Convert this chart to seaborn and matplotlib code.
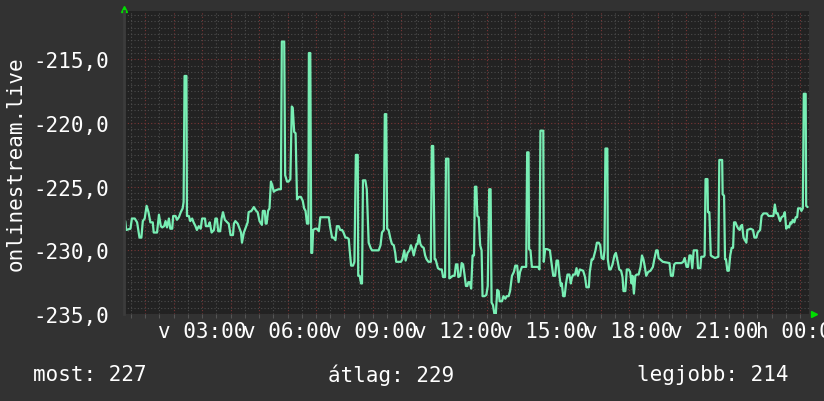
import matplotlib
matplotlib.use('Agg')
import matplotlib.pyplot as plt
from matplotlib.ticker import MultipleLocator, FuncFormatter
import pandas as pd
import seaborn as sns

# minutes since midnight (one day, 00:16 .. 00:20 next day)
time_min = [
    18, 20, 29, 32, 38, 43, 48, 52, 55, 59, 63, 67, 71, 76, 78, 85, 89, 93, 96, 100,
    103, 106, 110, 113, 117, 119, 124, 127, 131, 135, 139, 141, 143, 147, 148, 152, 155, 159, 162, 166,
    169, 173, 177, 180, 186, 188, 193, 196, 200, 205, 208, 211, 214, 218, 221, 224, 228, 233, 236, 240,
    245, 247, 250, 255, 257, 262, 264, 268, 271, 276, 278, 284, 289, 294, 297, 301,
    306, 308, 312, 314, 316, 319, 322, 325, 328, 331, 334, 341, 346, 348, 353, 355, 359, 362, 366, 369,
    371, 374, 377, 380, 384, 388, 392, 395, 398, 401, 404, 405, 408, 410, 412, 414, 418, 422, 426, 429,
    447, 450, 454, 457, 461, 464, 468, 471, 475, 478, 482, 485, 489, 491, 494, 498, 501, 504, 508, 509,
    512, 515, 517, 519, 524, 527, 531, 535, 538, 552, 556, 559, 563, 565, 568, 570, 573, 577, 580, 584,
    587, 589, 596,
    599, 602, 606, 609, 613, 617, 620, 623, 626, 629, 632, 634, 637, 640, 643, 647, 650, 653, 657, 662,
    664, 667, 670, 672, 677, 681, 685, 688, 692, 694, 699, 701, 705, 708, 712, 715, 718, 720, 724, 727,
    730, 733, 736, 739, 741, 744, 747, 750, 753, 755, 758, 760, 763, 766, 769, 771, 775, 779, 782, 785,
    788, 790, 793, 796, 799, 802, 805, 807, 812, 815, 819, 822, 826, 829, 833, 837, 840, 844, 847, 850,
    854, 863, 865, 868, 869, 872, 875, 888,
    891, 893, 899, 900, 903, 907, 913, 916, 920, 924, 927, 930, 933, 936, 938, 941, 944, 947, 950, 954,
    957, 959, 962, 966, 969, 972, 976, 983, 987, 990, 995, 997, 1001, 1004, 1009, 1012, 1016, 1019, 1022, 1026,
    1028, 1030, 1034, 1035, 1038, 1041, 1045, 1049, 1052, 1056, 1059, 1063, 1066, 1068, 1072, 1075, 1079, 1082, 1085, 1087,
    1090, 1093, 1096, 1100, 1104, 1107, 1110, 1113, 1116, 1120, 1125, 1130, 1133, 1137, 1140, 1142, 1151, 1165, 1168, 1172,
    1175,
    1178, 1190, 1194, 1197, 1201, 1204, 1207, 1210, 1213, 1216, 1223, 1225, 1230, 1232, 1237, 1239, 1241, 1245, 1246, 1249,
    1252, 1256, 1261, 1268, 1270, 1276, 1277, 1280, 1282, 1284, 1287, 1290, 1293, 1296, 1299, 1301, 1304, 1307, 1310, 1313,
    1315, 1318, 1321, 1324, 1327, 1329, 1336, 1341, 1344, 1348, 1351, 1356, 1359, 1363, 1370, 1374, 1381, 1384, 1387, 1390,
    1393, 1396, 1398, 1401, 1405, 1408, 1411, 1414, 1417, 1420, 1422, 1425, 1428, 1431, 1434, 1436, 1441, 1443, 1446, 1448,
    1452, 1453, 1456,
]

values = [
    -227.7, -228.4, -228.3, -227.5, -227.5, -227.8, -229.0, -229.0, -227.7, -227.5,
    -226.5, -227.0, -227.8, -227.8, -228.6, -228.6, -227.2, -228.1, -228.2, -228.1,
    -227.7, -228.2, -227.5, -228.3, -228.3, -227.3, -227.3, -227.6, -227.4, -227.0,
    -226.7, -226.2, -216.3, -216.3, -227.3, -227.3, -227.7, -227.5, -227.8, -228.1,
    -228.4, -228.1, -228.3, -227.5, -227.5, -228.1, -228.1, -227.8, -228.6, -228.4,
    -227.5, -227.5, -228.5, -228.5, -227.5, -227.0, -227.6, -227.8, -227.9, -228.8,
    -228.8, -227.9, -227.7, -227.9, -228.1, -228.6, -229.4, -228.6, -228.3, -227.8,
    -227.0, -226.9, -226.6, -226.9, -227.0, -227.7,
    -228.0, -226.9, -226.9, -227.9, -227.9, -226.9, -226.7, -224.6, -224.9, -225.4,
    -225.3, -225.2, -225.2, -213.6, -213.6, -224.1, -224.6, -224.6, -224.4, -218.7,
    -218.8, -220.7, -220.8, -226.0, -225.8, -225.8, -226.1, -226.7, -226.9, -227.9,
    -227.9, -214.5, -214.5, -230.2, -230.2, -228.4, -228.3, -228.3, -228.5, -227.4,
    -227.4, -228.2, -229.0, -229.0, -229.2, -228.1, -228.1, -228.4, -228.4, -228.6,
    -229.0, -229.0, -229.1, -230.0, -231.2, -231.2, -230.9, -222.5, -222.5, -232.0,
    -232.0, -232.6, -232.6, -224.5, -224.5, -225.2, -229.4, -229.8, -230.0, -230.0,
    -229.6, -228.6, -228.4, -219.3, -219.3, -228.3, -228.4, -229.1, -229.5, -229.6,
    -230.2, -230.9, -230.9,
    -230.9, -230.7, -230.0, -230.8, -230.2, -230.0, -229.6, -229.9, -230.4, -229.9,
    -229.5, -229.5, -228.8, -229.5, -229.7, -229.8, -230.4, -230.7, -230.9, -230.9,
    -221.8, -221.8, -230.7, -230.7, -231.4, -231.5, -231.5, -232.1, -232.1, -222.8,
    -222.8, -232.2, -232.1, -232.0, -232.0, -231.1, -231.1, -232.1, -232.0, -231.0,
    -231.1, -231.9, -232.8, -232.8, -232.5, -232.5, -233.0, -230.4, -230.4, -225.0,
    -225.0, -227.3, -227.4, -229.6, -230.0, -233.6, -233.6, -233.5, -232.8, -225.2,
    -225.2, -234.1, -234.3, -235.0, -235.0, -233.1, -233.2, -234.0, -234.0, -233.6,
    -233.8, -233.6, -233.6, -233.2, -232.0, -231.7, -231.2, -231.2, -232.5, -231.7,
    -231.3, -231.3, -222.3, -222.3, -229.9, -230.0, -231.3, -231.3,
    -231.5, -220.6, -220.6, -230.9, -229.9, -229.9, -230.0, -230.9, -232.0, -232.0,
    -230.8, -230.8, -232.0, -232.8, -232.6, -233.6, -233.6, -232.6, -231.9, -231.9,
    -232.6, -232.2, -231.9, -231.9, -231.4, -232.0, -231.5, -231.6, -232.1, -232.9,
    -232.9, -231.7, -230.7, -230.7, -230.0, -229.4, -229.4, -229.6, -230.6, -230.7,
    -230.0, -222.0, -222.0, -230.7, -231.5, -231.5, -231.1, -230.4, -230.2, -230.9,
    -231.5, -231.6, -232.1, -233.2, -233.2, -231.5, -231.5, -231.7, -232.6, -232.0,
    -233.4, -232.0, -231.9, -231.9, -231.3, -230.4, -230.7, -231.3, -232.0, -231.7,
    -231.6, -231.3, -230.7, -230.0, -230.0, -230.6, -230.9, -231.0, -232.0, -232.0,
    -231.1,
    -231.0, -231.0, -230.9, -230.6, -231.3, -231.3, -230.4, -230.4, -231.4, -230.0,
    -230.0, -231.4, -231.4, -230.5, -230.5, -230.4, -224.4, -224.4, -227.0, -227.0,
    -230.4, -230.5, -230.6, -230.5, -222.9, -222.9, -225.6, -225.7, -230.7, -230.7,
    -231.6, -231.6, -230.4, -229.8, -229.8, -227.8, -227.8, -228.1, -228.3, -228.4,
    -228.1, -228.0, -229.0, -229.2, -229.4, -228.4, -228.3, -228.4, -229.0, -229.0,
    -228.6, -228.4, -227.3, -227.1, -227.1, -227.3, -227.3, -227.3, -226.4, -227.1,
    -227.1, -227.5, -227.7, -227.4, -227.3, -227.0, -228.3, -228.1, -228.2, -227.8,
    -227.9, -227.6, -227.8, -227.4, -227.4, -226.7, -226.7, -226.9, -226.7, -217.7,
    -217.7, -226.5, -226.6,
]

tick_minutes = [180, 360, 540, 720, 900, 1080, 1260, 1440]
tick_labels = ['v 03:00', 'v 06:00', 'v 09:00', 'v 12:00',
               'v 15:00', 'v 18:00', 'v 21:00', 'h 00:00']
legend_items = ['most: 227', 'átlag: 229', 'legjobb: 214']

df = pd.DataFrame({'time': time_min, 'value': values})

sns.set_style('dark')
plt.rcParams['font.family'] = ['DejaVu Sans Mono', 'DejaVu Sans']

fig = plt.figure(figsize=(8.24, 4.02), dpi=100, facecolor='#323232')
ax = fig.add_axes([0.1505, 0.2164, 0.8313, 0.7537])
ax.set_facecolor('#222222')

sns.lineplot(data=df, x='time', y='value', ax=ax, color='#78eeb4',
             linewidth=1.6, estimator=None, sort=False)

ax.set_xlim(15.4, 1459)
ax.set_ylim(-235, -211.2)

# grid: hourly / half-hourly, 5 units / 0.5 units
ax.xaxis.set_major_locator(MultipleLocator(60))
ax.xaxis.set_minor_locator(MultipleLocator(30))
ax.yaxis.set_major_locator(MultipleLocator(5))
ax.yaxis.set_minor_locator(MultipleLocator(0.5))
label_map = dict(zip(tick_minutes, tick_labels))
ax.xaxis.set_major_formatter(FuncFormatter(lambda v, p: label_map.get(int(round(v)), '')))
ax.yaxis.set_major_formatter(FuncFormatter(lambda v, p: f'{v:.1f}'.replace('.', ',')))

ax.grid(True, which='major', color='#7a3636', linestyle=(0, (1, 2)), linewidth=0.8)
ax.grid(True, which='minor', color='#4c4c4c', linestyle=(0, (1, 2)), linewidth=0.8)
ax.set_axisbelow(True)

ax.tick_params(axis='x', which='both', colors='#555555', length=3, width=0.8,
               labelcolor='white', labelsize=15, pad=2, bottom=True)
ax.tick_params(axis='y', which='both', length=0, labelcolor='white', labelsize=15, pad=11)

for side in ['top', 'right', 'bottom']:
    ax.spines[side].set_visible(False)
ax.spines['left'].set_color('#3c3c3c')
ax.spines['left'].set_linewidth(2)

ax.set_xlabel('')
ax.set_ylabel('onlinestream.live', color='white', fontsize=15, va='center')
ax.yaxis.set_label_coords(-0.158, 0.5)

# rrdtool style axis arrows
ax.plot([0], [1.006], marker='^', color='#00dd00', markersize=5,
        transform=ax.transAxes, clip_on=False)
ax.plot([1.007], [0], marker='>', color='#00dd00', markersize=5,
        transform=ax.transAxes, clip_on=False)

# legend line
for xpos, txt in zip([33, 328, 637], legend_items):
    fig.text(xpos / 824, 1 - 375 / 402, txt, color='white', fontsize=15,
             va='center', ha='left')

fig.savefig('out.png', dpi=100, facecolor=fig.get_facecolor())
